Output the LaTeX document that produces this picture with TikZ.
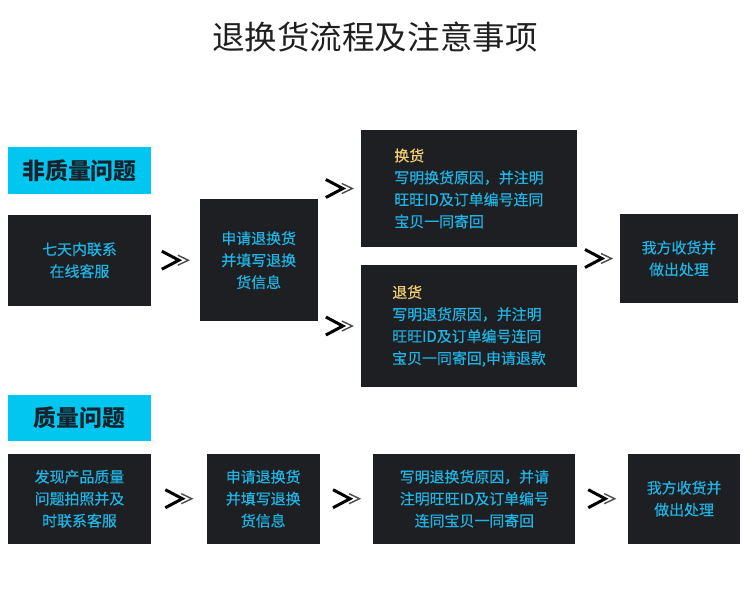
\documentclass[tikz,border=0pt]{standalone}
\usepackage{fontspec}
\setmainfont{Noto Sans CJK SC}
\newfontfamily\stepfont{Noto Sans CJK SC}[FakeBold=0.4]
\usepackage{tikz}
\usetikzlibrary{positioning}
\definecolor{boxdark}{RGB}{30,31,35}
\definecolor{labelcyan}{RGB}{0,198,240}
\definecolor{labelink}{RGB}{22,34,44}
\definecolor{stepcyan}{RGB}{32,180,228}
\definecolor{tagyellow}{RGB}{240,208,112}

\begin{document}
\begin{tikzpicture}[
			node distance=0.4cm,
			heading/.style={font=\fontsize{18.5}{22}\selectfont, text=black!88},
			tag/.style={rectangle, fill=labelcyan, text=labelink, minimum width=2.86cm, minimum height=0.94cm, font=\fontsize{13}{15}\selectfont\bfseries},
			stepbox/.style={rectangle, fill=boxdark, text=stepcyan, align=center, inner sep=0pt, font=\fontsize{8.5}{12.5}\selectfont\stepfont},
			notebox/.style={stepbox, align=left},
			chev/.style={inner sep=0pt, minimum width=0.62cm, minimum height=0.46cm, path picture={
				\begin{scope}[shift={(path picture bounding box.center)}]
					\draw[line width=1.7pt, black] (-0.27,0.18) -- (0.07,0) -- (-0.27,-0.18);
					\draw[line width=0.8pt, black!70] (0.05,0.10) -- (0.26,0) -- (0.05,-0.10);
				\end{scope}}}
		]

		\useasboundingbox (0,0) rectangle (15,-12.14);

		\node (title) [heading] at (7.5,-0.74) {退换货流程及注意事项};

		\node (nonqtag) [tag] at (1.59,-3.41) {非质量问题};
		\node (contact) [stepbox, minimum width=2.86cm, minimum height=1.82cm, below=0.4cm of nonqtag] {七天内联系\\在线客服};
		\node (apply) [stepbox, minimum width=2.36cm, minimum height=2.44cm, right=0.96cm of contact] {申请退换货\\并填写退换\\货信息};

		\node (exchange) [notebox, minimum width=4.32cm, minimum height=2.34cm] at (9.38,-3.77) {\textcolor{tagyellow}{换货}\\写明换货原因，并注明\\旺旺ID及订单编号连同\\宝贝一同寄回};
		\node (refund) [notebox, minimum width=4.32cm, minimum height=2.44cm] at (9.38,-6.52) {\textcolor{tagyellow}{退货}\\写明退货原因，并注明\\旺旺ID及订单编号连同\\宝贝一同寄回,申请退款};

		\node (handle) [stepbox, minimum width=2.36cm, minimum height=1.78cm] at (13.58,-5.17) {我方收货并\\做出处理};

		\node (qtag) [tag, minimum height=0.92cm] at (1.59,-8.36) {质量问题};
		\node (qfind) [stepbox, minimum width=2.86cm, minimum height=1.8cm, below=0.24cm of qtag] {发现产品质量\\问题拍照并及\\时联系客服};
		\node (qapply) [stepbox, minimum width=2.26cm, minimum height=1.8cm, right=1.1cm of qfind] {申请退换货\\并填写退换\\货信息};
		\node (qnote) [stepbox, minimum width=4.04cm, minimum height=1.8cm, right=1.06cm of qapply] {写明退换货原因，并请\\注明旺旺ID及订单编号\\连同宝贝一同寄回};
		\node (qhandle) [stepbox, minimum width=2.24cm, minimum height=1.8cm, right=1.04cm of qnote] {我方收货并\\做出处理};

		\path (contact) -- node[chev] (c1) {} (apply);
		\path (apply.east |- exchange.west) -- node[chev] (c2) {} (exchange.west);
		\path (apply.east |- refund.west) -- node[chev] (c3) {} (refund.west);
		\path (exchange.east |- handle.west) -- node[chev] (c4) {} (handle.west);

		\path (qfind) -- node[chev] (q1) {} (qapply);
		\path (qapply) -- node[chev] (q2) {} (qnote);
		\path (qnote) -- node[chev] (q3) {} (qhandle);

	\end{tikzpicture}
\end{document}
